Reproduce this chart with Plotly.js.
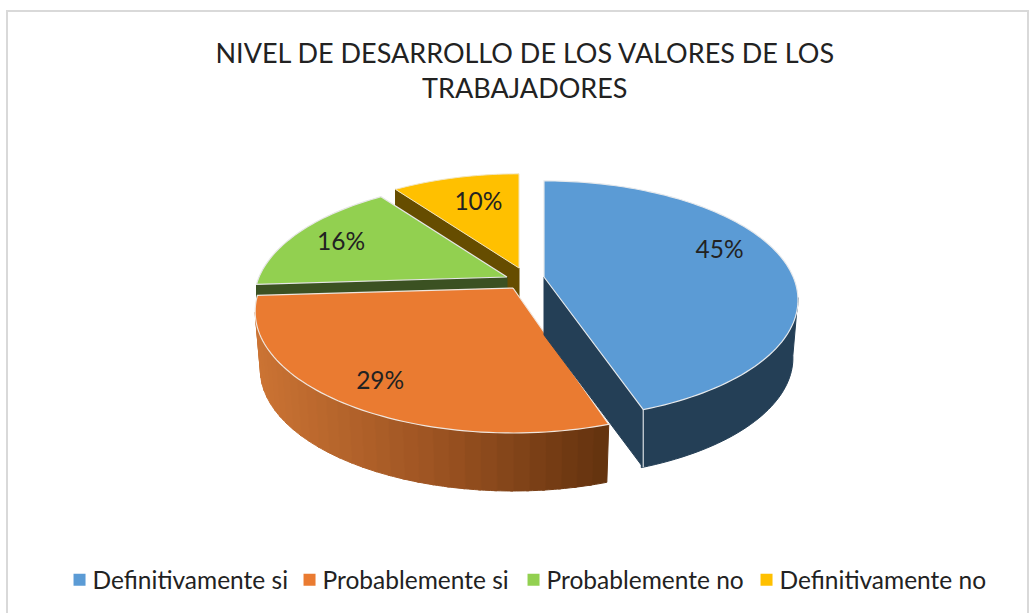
<!DOCTYPE html>
<html><head><meta charset="utf-8">
<script src="https://cdn.plot.ly/plotly-3.0.1.min.js"></script>
<style>html,body{margin:0;padding:0;background:#fff}#c{width:1030px;height:613px}</style>
</head><body><div id="c"></div>
<script>
const categories = ["Definitivamente si","Probablemente si","Probablemente no","Definitivamente no"];
const values = [45,29,16,10];
const topColors = ["#5b9bd5","#ea7b31","#92d050","#ffc000"];
const wallColors = ["#243f56","#a85a24","#3b5122","#664d00"];
const FONT = "Lato, 'Open Sans', sans-serif";

// projection of the tilted disc
const K=0.193, A=253, B=117, DEPTH=58, WALLX=0.98;
const apex=[[544,277],[513,288],[507,277],[519,268]];
const scale=[[0.985,0.98],[1,1],[0.98,0.98],[0.96,0.96]];
const cutDepth=[DEPTH,DEPTH,24,DEPTH];
const labelFrac=[[0.735,1.6],[0.785,0.8],[0.8,0.78],[0.64,0.74]];
const BLUE_END_TRIM=1, LABEL_DY=2.5;
const legendOffsets=[0,230,454,687];

function proj(i,deg,wall){
  const t=deg*Math.PI/180,u=Math.sin(t),v=-Math.cos(t),w=1-K*v;
  return [apex[i][0]+scale[i][0]*A*u/w*(wall?WALLX:1), apex[i][1]+scale[i][1]*B*v/w+(wall?DEPTH:0)];
}
function arc(i,a,b,wall){
  const n=Math.max(2,Math.ceil(Math.abs(b-a)/1.5)),p=[];
  for(let k=0;k<=n;k++)p.push(proj(i,a+(b-a)*k/n,wall));
  return p;
}
function poly(pts,fill,line,lw){
  return {type:"scatter",mode:"lines",x:pts.map(p=>p[0]).concat(pts[0][0]),y:pts.map(p=>p[1]).concat(pts[0][1]),
    fill:"toself",fillcolor:fill,line:{color:line||fill,width:lw===undefined?1:lw,simplify:false},showlegend:false,hoverinfo:"skip"};
}
const edges=[0];values.forEach(v=>edges.push(edges[edges.length-1]+v*3.6));
const blueEnd=edges[1]-BLUE_END_TRIM;
const traces=[];
function cutFace(i,deg){
  const a=[apex[i][0],apex[i][1]],b=proj(i,deg,false),d=cutDepth[i];
  return poly([a,b,[b[0],b[1]+d],[a[0],a[1]+d]],wallColors[i]);
}
function orangeShade(x){
  const f=Math.min(1,Math.max(0,(x-258)/(606-258)));
  const c0=[204,116,52],c1=[152,80,32],c2=[98,50,14];
  const g=f<0.55?f/0.55:(f-0.55)/0.45,p=f<0.55?c0:c1,q=f<0.55?c1:c2;
  return "rgb("+p.map((c,j)=>Math.round(c+(q[j]-c)*g)).join(",")+")";
}
// yellow
traces.push(cutFace(3,edges[3]));
traces.push(poly([apex[3]].concat(arc(3,edges[3],edges[4],false)),topColors[3],"#f2e6c0",1));
// green
traces.push(cutFace(2,edges[2]));
traces.push(poly([apex[2]].concat(arc(2,edges[2],edges[3],false)),topColors[2],"#e6e6e6",1.2));
// orange wall in shaded strips
for(let d=edges[1];d<258;d+=3){
  const e=Math.min(d+3.5,259);
  const s=arc(1,d,e,false).concat(arc(1,e,d,true));
  const mx=(proj(1,d,true)[0]+proj(1,e,true)[0])/2;
  traces.push(poly(s,orangeShade(mx)));
}
traces.push(poly([apex[1]].concat(arc(1,edges[1],edges[2],false)),topColors[1],"#f0e6de",1.2));
// blue
traces.push(cutFace(0,blueEnd));
traces.push(poly(arc(0,100,blueEnd,false).concat(arc(0,blueEnd,100,true)),wallColors[0]));
const bc=proj(0,blueEnd,false);
traces.push({type:"scatter",mode:"lines",x:[bc[0],bc[0]],y:[bc[1],bc[1]+DEPTH],line:{color:"#d8dde2",width:1.2},showlegend:false,hoverinfo:"skip"});
traces.push(poly([apex[0]].concat(arc(0,edges[0],blueEnd,false)),topColors[0],"#e6e9ec",1.2));
// percentage labels
const lx=[],ly=[],lt=[];
values.forEach((v,i)=>{
  const p=proj(i,(edges[i]+edges[i+1])/2,false);
  lx.push(apex[i][0]+(p[0]-apex[i][0])*labelFrac[i][0]);
  ly.push(apex[i][1]+(p[1]-apex[i][1])*labelFrac[i][1]+LABEL_DY);
  lt.push(v+"%");
});
traces.push({type:"scatter",mode:"text",x:lx,y:ly,text:lt,textposition:"middle center",
  textfont:{family:FONT,size:24.5,color:"#222"},showlegend:false,hoverinfo:"skip"});
// legend entries
categories.forEach((c,i)=>traces.push({type:"scatter",mode:"markers",x:[null],y:[null],name:c,
  marker:{symbol:"square",size:7,color:topColors[i]},hoverinfo:"skip"}));

const layout={width:1030,height:613,margin:{l:0,r:0,t:0,b:0},paper_bgcolor:"#fff",plot_bgcolor:"#fff",
  title:{text:"NIVEL DE DESARROLLO DE LOS VALORES DE LOS<br>TRABAJADORES",x:0.5095,xanchor:"center",y:0.898,yanchor:"top",
    font:{family:FONT,size:27,color:"#222"}},
  xaxis:{range:[0,1030],visible:false,fixedrange:true},
  yaxis:{range:[613,0],visible:false,fixedrange:true},
  showlegend:true,
  legend:{orientation:"h",x:0.051,xanchor:"left",y:0.054,yanchor:"middle",font:{family:FONT,size:24.5,color:"#222"},
    itemsizing:"constant",tracegroupgap:0,bgcolor:"rgba(0,0,0,0)"},
  shapes:[{type:"rect",xref:"paper",yref:"paper",x0:7/1030,x1:1028/1030,y0:-0.05,y1:1-11/613,line:{color:"#d9d9d9",width:2},fillcolor:"rgba(0,0,0,0)",layer:"below"}]
};
Plotly.newPlot("c",traces,layout,{displayModeBar:false,responsive:false}).then(()=>{
  document.querySelectorAll(".legend .legendsymbols").forEach(p=>p.setAttribute("transform","translate(7,0)"));
  document.querySelectorAll(".legend .traces").forEach((g,i)=>{
    const m=/translate\(\s*([-\d.]+)[ ,]+([-\d.]+)/.exec(g.getAttribute("transform")||"");
    if(m)g.setAttribute("transform","translate("+(parseFloat(document.querySelector(".legend .traces").getAttribute("transform").match(/translate\(\s*([-\d.]+)/)[1])+legendOffsets[i])+","+m[2]+")");
  });
});
</script></body></html>
